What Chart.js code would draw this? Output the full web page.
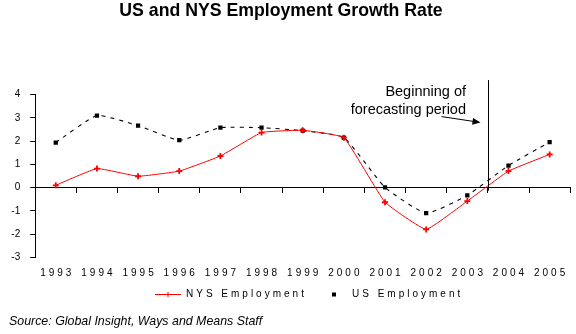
<!DOCTYPE html>
<html lang="en">
<head>
  <meta charset="UTF-8" />
  <title>US and NYS Employment Growth Rate</title>
  <script src="https://cdn.jsdelivr.net/npm/chart.js"></script>
  <style>
    html, body { margin: 0; padding: 0; background: #fff; }
    .wrap { position: relative; width: 576px; height: 334px; }
  </style>
</head>
<body>
  <div class="wrap"><canvas id="chart"></canvas></div>

  <script>
    const years = ['1993', '1994', '1995', '1996', '1997', '1998', '1999', '2000', '2001', '2002', '2003', '2004', '2005'];
    const nysEmployment = [0.10, 0.82, 0.49, 0.71, 1.36, 2.37, 2.47, 2.15, -0.63, -1.80, -0.58, 0.71, 1.43];
    const usEmployment = [1.94, 3.10, 2.67, 2.04, 2.58, 2.58, 2.45, 2.15, 0.01, -1.10, -0.33, 0.95, 1.96];
    const yTicks = [-3, -2, -1, 0, 1, 2, 3, 4];
    const forecastStart = '2004';
    const chartTitle = 'US and NYS Employment Growth Rate';
    const sourceNote = 'Source: Global Insight, Ways and Means Staff';

    const FONT = "'Liberation Sans', Arial, sans-serif";
    Chart.defaults.font.family = FONT;
    Chart.defaults.color = '#000';

    // title, year labels, legend, source and the forecast note are drawn here
    const extras = {
      id: 'extras',
      afterDraw(chart) {
        const { ctx, scales: { x, y } } = chart;
        ctx.save();
        ctx.fillStyle = '#000';
        ctx.textBaseline = 'middle';

        ctx.font = 'bold 17.7px ' + FONT;
        ctx.textAlign = 'center';
        ctx.fillText(chartTitle, 281, 11.5);

        // spaced-out year labels under the plot
        ctx.font = '10px ' + FONT;
        ctx.letterSpacing = '3px';
        years.forEach((yr, i) => ctx.fillText(yr, x.getPixelForValue(i) + 1.5, y.bottom + 16));

        // legend
        const ly = 294.5;
        ctx.textAlign = 'left';
        ctx.strokeStyle = '#ff0000';
        ctx.lineWidth = 1;
        ctx.beginPath();
        ctx.moveTo(155, ly); ctx.lineTo(181, ly);
        ctx.moveTo(168, ly - 2.5); ctx.lineTo(168, ly + 2.5);
        ctx.stroke();
        ctx.fillText(chart.data.datasets[0].label, 186, ly);
        ctx.fillRect(332, ly - 2, 4, 4);
        ctx.fillText(chart.data.datasets[1].label, 352, ly);
        ctx.letterSpacing = '0px';

        ctx.font = 'italic 12.4px ' + FONT;
        ctx.fillText(sourceNote, 9, 322);

        // beginning of forecasting period
        const i = years.indexOf(forecastStart);
        const fx = Math.round((x.getPixelForValue(i - 1) + x.getPixelForValue(i)) / 2) + 0.5;
        const top = y.getPixelForValue(4.63);
        ctx.strokeStyle = '#000';
        ctx.beginPath();
        ctx.moveTo(fx, top);
        ctx.lineTo(fx, y.getPixelForValue(0) + 3);
        ctx.stroke();

        ctx.font = '14.5px ' + FONT;
        ctx.textAlign = 'right';
        ctx.fillText('Beginning of', fx - 22.5, top + 12);
        ctx.fillText('forecasting period', fx - 22.5, top + 29.5);

        const ax0 = fx - 47, ay0 = top + 36.5, ax1 = fx - 8, ay1 = top + 42.5;
        ctx.beginPath();
        ctx.moveTo(ax0, ay0); ctx.lineTo(ax1 - 6, ay1 - 1);
        ctx.stroke();
        const ang = Math.atan2(ay1 - ay0, ax1 - ax0);
        ctx.beginPath();
        ctx.moveTo(ax1, ay1);
        ctx.lineTo(ax1 - 8 * Math.cos(ang) + 3.5 * Math.sin(ang), ay1 - 8 * Math.sin(ang) - 3.5 * Math.cos(ang));
        ctx.lineTo(ax1 - 8 * Math.cos(ang) - 3.5 * Math.sin(ang), ay1 - 8 * Math.sin(ang) + 3.5 * Math.cos(ang));
        ctx.closePath();
        ctx.fill();
        ctx.restore();
      }
    };

    new Chart(document.getElementById('chart'), {
      type: 'line',
      data: {
        labels: years,
        datasets: [
          {
            label: 'NYS Employment',
            data: nysEmployment,
            borderColor: '#ff0000',
            backgroundColor: '#ff0000',
            borderWidth: 1,
            tension: 0.1,
            pointStyle: 'cross',
            pointRadius: 3,
            pointBorderWidth: 1.8
          },
          {
            label: 'US Employment',
            data: usEmployment,
            borderColor: '#000',
            backgroundColor: '#000',
            borderWidth: 1.1,
            borderDash: [4, 5],
            tension: 0.15,
            pointStyle: 'rect',
            pointRadius: 3,
            pointBorderWidth: 0
          }
        ]
      },
      options: {
        responsive: true,
        maintainAspectRatio: false,
        animation: false,
        layout: { padding: { left: 1.3, right: 1.5, top: 94.7, bottom: 76.7 } },
        plugins: {
          legend: { display: false },
          tooltip: { enabled: false },
          title: { display: false }
        },
        scales: {
          x: {
            position: { y: 0 },
            offset: true,
            ticks: { display: false },
            grid: { offset: true, drawOnChartArea: false, drawTicks: true, tickLength: 5, color: '#000' },
            border: { color: '#000', width: 1 }
          },
          y: {
            min: -3,
            max: 4,
            afterBuildTicks: scale => { scale.ticks = yTicks.map(v => ({ value: v })); },
            ticks: { color: '#000', font: { size: 10 }, padding: 10 },
            grid: { drawOnChartArea: false, drawTicks: true, tickLength: 5, color: '#000' },
            border: { color: '#000', width: 1 }
          }
        }
      },
      plugins: [extras]
    });
  </script>
</body>
</html>
